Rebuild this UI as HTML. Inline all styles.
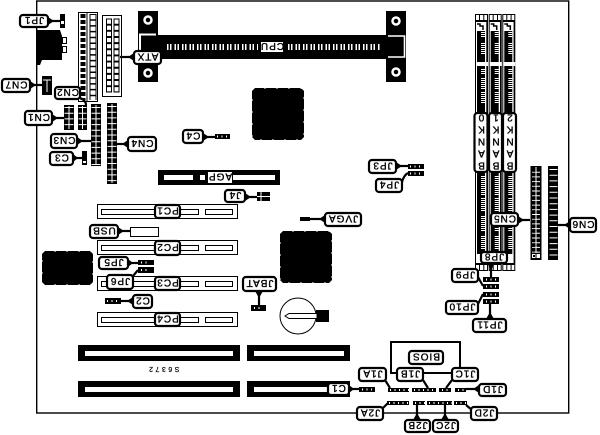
<!DOCTYPE html>
<html><head><meta charset="utf-8"><style>
html,body{margin:0;padding:0;background:#fff;width:600px;height:435px;overflow:hidden}
svg{display:block}
text{font-family:"Liberation Sans",sans-serif;font-size:10px;letter-spacing:1px;text-anchor:middle;fill:#000;stroke:#000;stroke-width:.35}
.l{fill:#fff;stroke:#000;stroke-width:2.2}
.k{fill:none;stroke:#000;stroke-width:2.2}
</style></head><body>
<svg width="600" height="435" viewBox="0 0 600 435" xmlns="http://www.w3.org/2000/svg">
<defs>
<g id="slot">
<rect x="0" y="14" width="13" height="257" fill="#000"/>
<rect x="1" y="31" width="1" height="223" fill="#fff"/>
<rect x="10" y="31" width="1.300" height="223" fill="#fff"/>
<rect x="1" y="15" width="3" height="5" fill="#fff"/><rect x="5" y="15" width="3.300" height="5" fill="#fff"/><rect x="9.300" y="15" width="2.700" height="5" fill="#fff"/>
<rect x="1" y="22" width="10.300" height="9" fill="#fff"/>
<path d="M2 24H5V26H8V30" fill="none" stroke="#000" stroke-width="1.500"/>
<rect x="1" y="62" width="12" height="4" fill="#fff"/>
<g stroke="#fff" stroke-width="4" stroke-dasharray="1 1" fill="none">
<line x1="8" y1="32" x2="8" y2="38"/><line x1="8" y1="43" x2="8" y2="54"/>
<line x1="8" y1="69" x2="8" y2="74"/><line x1="8" y1="78" x2="8" y2="90"/><line x1="8" y1="92" x2="8" y2="104"/>
<line x1="8" y1="176" x2="8" y2="196"/><line x1="8" y1="198" x2="8" y2="212"/><line x1="8" y1="216" x2="8" y2="232"/><line x1="8" y1="236" x2="8" y2="250"/>
</g>
<rect x="1" y="254" width="10.300" height="9" fill="#fff"/>
<rect x="1" y="265" width="3" height="5" fill="#fff"/><rect x="5" y="265" width="3.300" height="5" fill="#fff"/><rect x="9.300" y="265" width="2.700" height="5" fill="#fff"/>
</g>
<g id="pci">
<rect x="97.500" y=".5" width="140" height="14" fill="#fff" stroke="#000"/>
<rect x="101.500" y="5.500" width="54" height="5" fill="#fff" stroke="#000"/>
<rect x="178.500" y="5.500" width="20" height="5" fill="#fff" stroke="#000"/>
<rect x="205.500" y="5.500" width="27" height="5" fill="#fff" stroke="#000"/>
</g>
</defs>

<rect x="36.700" y="1" width="532" height="412" fill="none" stroke="#000" stroke-width="1.400"/>

<!-- back panel -->
<path d="M37 30H60L62 36V60H42L40 65H37Z" fill="#000"/>
<rect x="62.500" y="37.500" width="4" height="6" fill="#fff" stroke="#000"/>
<rect x="62.500" y="46.500" width="4" height="6" fill="#fff" stroke="#000"/>
<rect x="60" y="14" width="5" height="14" fill="#000"/>
<rect x="61" y="21" width="3" height="3" fill="#fff"/>

<!-- upper left connector -->
<rect x="78.500" y="12.500" width="19" height="89" fill="#fff" stroke="#000"/>
<line x1="83" y1="14" x2="83" y2="100" stroke="#000" stroke-width="5" stroke-dasharray="4 2"/>
<line x1="87" y1="13" x2="87" y2="101" stroke="#000"/>
<line x1="93" y1="14" x2="93" y2="100" stroke="#000" stroke-width="7"/>
<line x1="93" y1="15" x2="93" y2="100" stroke="#fff" stroke-width="5" stroke-dasharray="4.300 1.500"/>

<!-- ATX connector -->
<rect x="102.500" y="15.500" width="19" height="81" fill="#fff" stroke="#000"/>
<line x1="109" y1="18.500" x2="109" y2="92.500" stroke="#000" stroke-width="6"/>
<line x1="116.500" y1="18.500" x2="116.500" y2="92.500" stroke="#000" stroke-width="6"/>
<line x1="109" y1="19.500" x2="109" y2="92" stroke="#fff" stroke-width="4" stroke-dasharray="4.200 1.950"/>
<line x1="116.500" y1="19.500" x2="116.500" y2="92" stroke="#fff" stroke-width="4" stroke-dasharray="4.200 1.950"/>

<!-- CPU slot -->
<rect x="138" y="11" width="20" height="71" fill="#000"/>
<rect x="386" y="11" width="20" height="71" fill="#000"/>
<rect x="158" y="35" width="228" height="24" fill="#000"/>
<circle cx="148" cy="20" r="3.500" fill="none" stroke="#fff" stroke-width="2.500"/>
<circle cx="148" cy="73" r="3.500" fill="none" stroke="#fff" stroke-width="2.500"/>
<circle cx="396" cy="21" r="3.500" fill="none" stroke="#fff" stroke-width="2.500"/>
<circle cx="396" cy="72" r="3.500" fill="none" stroke="#fff" stroke-width="2.500"/>
<path d="M140 50V34.500H156" fill="none" stroke="#fff" stroke-width="2"/>
<path d="M388 36H404.500V57H388" fill="none" stroke="#fff" stroke-width="1.600"/>
<line x1="167" y1="47" x2="258" y2="47" stroke="#fff" stroke-width="6" stroke-dasharray="1.500 1.500 1.500 3"/>
<line x1="288" y1="47" x2="380" y2="47" stroke="#fff" stroke-width="6" stroke-dasharray="1.500 1.500 1.500 3"/>
<rect x="261" y="42" width="22" height="10" fill="#fff"/>
<text transform="rotate(180 272 47)" x="272" y="51">CPU</text>

<!-- chips -->
<path d="M255 88H301L304 91V137L301 140H255L252 137V91Z" fill="#000"/>
<path d="M283 231H329L332 234V280L329 283H283L280 280V234Z" fill="#000"/>
<path d="M45 251H90L93 254V282L90 285H45L42 282V254Z" fill="#000"/>
<g fill="none" stroke="#fff" stroke-dasharray="1 11">
<rect x="252.500" y="88.500" width="51" height="51"/>
<rect x="280.500" y="231.500" width="51" height="51"/>
<rect x="42.500" y="251.500" width="50" height="33"/>
</g>

<!-- left connectors -->
<rect x="42" y="76" width="10" height="19" fill="#000"/>
<path d="M43 80H51M47 80V92" stroke="#fff" fill="none"/>
<rect x="64" y="105" width="10" height="25" fill="#000"/>
<rect x="78" y="105" width="9" height="25" fill="#000"/>
<rect x="91" y="104" width="10" height="62" fill="#000"/>
<rect x="107" y="103" width="10" height="81" fill="#000"/>
<rect x="82" y="151" width="5" height="14" fill="#000"/>
<rect x="83" y="161" width="3" height="2" fill="#fff"/>
<g stroke="#fff" fill="none">
<line x1="69" y1="106" x2="69" y2="129"/><line x1="82.500" y1="106" x2="82.500" y2="129"/><line x1="96" y1="105" x2="96" y2="165"/><line x1="112" y1="104" x2="112" y2="183"/>
<line x1="69" y1="107" x2="69" y2="129" stroke-width="9" stroke-dasharray="1 4.700"/>
<line x1="82.500" y1="107" x2="82.500" y2="129" stroke-width="8" stroke-dasharray="1 4.700"/>
<line x1="96" y1="107" x2="96" y2="165" stroke-width="9" stroke-dasharray="1 4.700"/>
<line x1="112" y1="106" x2="112" y2="183" stroke-width="9" stroke-dasharray="1 4.700"/>
</g>

<!-- AGP -->
<rect x="158" y="170" width="122" height="15" fill="#000"/>
<rect x="164" y="175" width="29" height="5" fill="#fff"/>
<rect x="233" y="175" width="42" height="5" fill="#fff"/>
<rect x="200" y="175" width="5" height="5" fill="#fff"/>
<rect x="208" y="172" width="24" height="11" fill="#fff"/>
<text transform="rotate(180 220 177.500)" x="220" y="181.500">AGP</text>

<!-- PCI slots -->
<use href="#pci" y="204"/><use href="#pci" y="240"/><use href="#pci" y="276"/><use href="#pci" y="312"/>

<!-- ISA slots -->
<g fill="#000">
<rect x="78" y="345" width="162" height="16"/><rect x="78" y="381" width="162" height="16"/>
<rect x="247" y="345" width="103" height="16"/><rect x="247" y="381" width="103" height="16"/>
</g>
<g fill="#fff">
<rect x="85" y="351" width="148" height="5"/><rect x="85" y="387" width="148" height="5"/>
<rect x="254" y="351" width="90" height="5"/><rect x="254" y="387" width="90" height="5"/>
</g>
<text transform="rotate(180 163 370)" x="163" y="373" style="font-size:7px;letter-spacing:2.500px;stroke-width:.2">S6372</text>

<!-- battery -->
<circle cx="298" cy="316" r="18" fill="#fff" stroke="#000"/>
<rect x="316" y="310" width="13" height="12" fill="#000"/>
<path d="M285 316L289 313.500H317V318.500H289Z" fill="#fff" stroke="#000"/>

<!-- memory -->
<use href="#slot" x="475"/><use href="#slot" x="488.700"/><use href="#slot" x="502.300"/>

<!-- CN5 / CN6 -->
<rect x="530.500" y="166" width="11" height="94" fill="#000"/>
<rect x="532" y="168" width="8" height="90" fill="#fff"/>
<line x1="536" y1="168" x2="536" y2="258" stroke="#000" stroke-width="1"/>
<line x1="536" y1="168" x2="536" y2="254" stroke="#000" stroke-width="8" stroke-dasharray="3.700 1"/>
<rect x="537" y="168" width="2.500" height="0" fill="#000"/>
<line x1="534" y1="168" x2="534" y2="253" stroke="#000" stroke-width="3" stroke-dasharray="3.700 1"/>
<line x1="536" y1="167" x2="536" y2="253" stroke="#fff"/>
<rect x="533" y="255" width="2" height="2" fill="#000"/>
<rect x="548" y="166" width="10" height="94" fill="#000"/>
<line x1="553.500" y1="169" x2="553.500" y2="256" stroke="#fff" stroke-width="8" stroke-dasharray="1 4.700"/>

<!-- small components -->
<g fill="#000">
<rect x="215" y="134" width="15" height="5"/>
<rect x="257" y="192" width="13" height="9"/>
<rect x="408" y="164" width="16" height="5"/><rect x="408" y="171" width="16" height="5"/>
<rect x="300" y="217" width="10" height="4"/>
<rect x="138" y="260" width="16" height="5"/><rect x="138" y="267" width="16" height="6"/>
<rect x="105" y="298" width="16" height="6"/>
<rect x="251" y="305" width="15" height="6"/>
<rect x="359" y="387" width="16" height="5"/>
<rect x="483" y="277" width="16" height="5"/><rect x="483" y="284" width="16" height="5"/>
<rect x="483" y="292" width="16" height="5"/><rect x="483" y="299" width="16" height="5"/>
<rect x="388" y="388" width="21" height="4"/><rect x="412" y="388" width="24" height="4"/>
<rect x="439" y="388" width="12" height="4"/><rect x="455" y="388" width="11" height="4"/>
<rect x="387" y="401" width="22" height="4"/><rect x="413" y="401" width="12" height="4"/>
<rect x="427" y="401" width="25" height="4"/><rect x="454" y="401" width="13" height="4"/>
</g>
<g stroke="#fff" fill="none" stroke-width="2" stroke-dasharray="1 3.500">
<line x1="217" y1="136.500" x2="230" y2="136.500"/>
<line x1="410" y1="166.500" x2="420" y2="166.500"/><line x1="410" y1="173.500" x2="420" y2="173.500"/>
<line x1="141" y1="262.500" x2="150" y2="262.500"/><line x1="141" y1="270" x2="150" y2="270"/>
<line x1="107" y1="301" x2="118" y2="301"/>
<line x1="254" y1="308" x2="262" y2="308"/>
<line x1="362" y1="389.500" x2="375" y2="389.500"/>
<line x1="486" y1="279.500" x2="496" y2="279.500"/><line x1="486" y1="286.500" x2="496" y2="286.500"/>
<line x1="486" y1="294.500" x2="496" y2="294.500"/><line x1="486" y1="301.500" x2="496" y2="301.500"/>
<line x1="390" y1="390" x2="409" y2="390"/><line x1="414" y1="390" x2="436" y2="390"/>
<line x1="442" y1="390" x2="451" y2="390"/><line x1="458" y1="390" x2="466" y2="390"/>
<line x1="389" y1="403" x2="409" y2="403"/><line x1="415" y1="403" x2="425" y2="403"/>
<line x1="429" y1="403" x2="452" y2="403"/><line x1="456" y1="403" x2="467" y2="403"/>
</g>
<path d="M261 192V201M257 196.500H270" stroke="#fff"/>
<rect x="130.500" y="227.500" width="28" height="9" fill="#fff" stroke="#000"/>

<!-- BIOS box -->
<rect x="391" y="342" width="69" height="31" fill="none" stroke="#000" stroke-width="2"/>

<!-- leaders -->
<g class="k">
<path d="M48 21H60"/><path d="M120 57H134"/><path d="M30 85H42"/><path d="M78 97Q86 100 86 105"/>
<path d="M52 118H64"/><path d="M77 141H91"/><path d="M73 158H82"/><path d="M128 144H117"/>
<path d="M203 137H215"/><path d="M245 197H257"/><path d="M396 166H408"/><path d="M402 182Q404 175 408 173"/>
<path d="M325 219H310"/><path d="M118 231H130"/><path d="M128 263H138"/><path d="M133 276L138 270"/>
<path d="M133 301H121"/><path d="M259 291V305"/><path d="M349 389H359"/>
<path d="M491 263V277"/><path d="M478 277L483 286"/><path d="M478 304L483 294"/><path d="M490 319V304"/>
<path d="M385 380L390 388"/><path d="M423 380L428 388"/><path d="M452 380L446 388"/><path d="M478 389H466"/>
<path d="M383 408L388 403"/><path d="M417 420V405"/><path d="M445 420V405"/><path d="M472 410L466 405"/>
<path d="M518 220H530"/><path d="M570 225H558"/>
</g>
<!-- leader wedges -->
<g fill="#000">
<path d="M48 17V25L54 21Z"/><path d="M134 53V61L128 57Z"/><path d="M30 81V89L36 85Z"/>
<path d="M52 114V122L58 118Z"/><path d="M77 137V145L83 141Z"/><path d="M73 154V162L78 158Z"/>
<path d="M128 140V148L122 144Z"/><path d="M203 133V141L209 137Z"/><path d="M245 193V201L251 197Z"/>
<path d="M396 162V170L402 166Z"/><path d="M325 215V223L319 219Z"/><path d="M118 227V235L124 231Z"/>
<path d="M128 259V267L133 263Z"/><path d="M133 297V305L127 301Z"/><path d="M255 291H263L259 298Z"/>
<path d="M349 385V393L354 389Z"/><path d="M518 216V224L524 220Z"/><path d="M570 221V229L564 225Z"/>
<path d="M479 385V393L473 389Z"/><path d="M487 263H495L491 270Z"/><path d="M486 319H494L490 312Z"/>
<path d="M413 420H421L417 413Z"/><path d="M441 420H449L445 413Z"/>
</g>

<!-- labels -->
<rect class="l" x="20" y="15" width="28" height="12" rx="3"/><text transform="rotate(180 34 21)" x="34" y="25">JP1</text>
<rect class="l" x="134" y="51" width="27" height="13" rx="3"/><text transform="rotate(180 147.500 57.500)" x="147.500" y="61.500">ATX</text>
<rect class="l" x="2" y="79" width="28" height="13" rx="3"/><text transform="rotate(180 16 85.500)" x="16" y="89.500">CN7</text>
<rect class="l" x="55" y="87" width="25" height="12" rx="3"/><text transform="rotate(180 67.500 93)" x="67.500" y="97">CN2</text>
<rect class="l" x="25" y="111" width="27" height="14" rx="3"/><text transform="rotate(180 38.500 118)" x="38.500" y="122">CN1</text>
<rect class="l" x="51" y="134" width="26" height="14" rx="3"/><text transform="rotate(180 64 141)" x="64" y="145">CN3</text>
<rect class="l" x="50" y="152" width="23" height="13" rx="3"/><text transform="rotate(180 61.500 158.500)" x="61.500" y="162.500">C3</text>
<rect class="l" x="128" y="137" width="28" height="14" rx="3"/><text transform="rotate(180 142 144)" x="142" y="148">CN4</text>
<rect class="l" x="183" y="130" width="20" height="13" rx="3"/><text transform="rotate(180 193 136.500)" x="193" y="140.500">C4</text>
<rect class="l" x="225" y="190" width="20" height="12" rx="3"/><text transform="rotate(180 235 196)" x="235" y="200">J4</text>
<rect class="l" x="155" y="205" width="25" height="13" rx="3"/><text transform="rotate(180 167.500 211.500)" x="167.500" y="215.500">PC1</text>
<rect class="l" x="155" y="241" width="25" height="14" rx="3"/><text transform="rotate(180 167.500 248)" x="167.500" y="252">PC2</text>
<rect class="l" x="155" y="277" width="25" height="13" rx="3"/><text transform="rotate(180 167.500 283.500)" x="167.500" y="287.500">PC3</text>
<rect class="l" x="155" y="313" width="25" height="13" rx="3"/><text transform="rotate(180 167.500 319.500)" x="167.500" y="323.500">PC4</text>
<rect class="l" x="369" y="160" width="27" height="13" rx="3"/><text transform="rotate(180 382.500 166.500)" x="382.500" y="170.500">JP3</text>
<rect class="l" x="376" y="179" width="26" height="13" rx="3"/><text transform="rotate(180 389 185.500)" x="389" y="189.500">JP4</text>
<rect class="l" x="325" y="213" width="36" height="13" rx="3"/><text transform="rotate(180 343 219.500)" x="343" y="223.500">JVGA</text>
<rect class="l" x="90" y="225" width="28" height="13" rx="3"/><text transform="rotate(180 104 231.500)" x="104" y="235.500">USB</text>
<rect class="l" x="99" y="257" width="29" height="12" rx="3"/><text transform="rotate(180 113.500 263)" x="113.500" y="267">JP5</text>
<rect class="l" x="107" y="275" width="26" height="14" rx="3"/><text transform="rotate(180 120 282)" x="120" y="286">JP6</text>
<rect class="l" x="133" y="295" width="19" height="13" rx="3"/><text transform="rotate(180 142.500 301.500)" x="142.500" y="305.500">C2</text>
<rect class="l" x="243" y="277" width="33" height="14" rx="3"/><text transform="rotate(180 259.500 284)" x="259.500" y="288">JBAT</text>
<rect class="l" x="328" y="383" width="21" height="12" rx="3"/><text transform="rotate(180 338.500 389)" x="338.500" y="393">C1</text>
<rect class="l" x="409" y="351" width="34" height="13" rx="3"/><text transform="rotate(180 426 357.500)" x="426" y="361.500">BIOS</text>
<rect class="l" x="359" y="368" width="27" height="13" rx="3"/><text transform="rotate(180 372.500 374.500)" x="372.500" y="378.500">J1A</text>
<rect class="l" x="397" y="368" width="26" height="13" rx="3"/><text transform="rotate(180 410 374.500)" x="410" y="378.500">J1B</text>
<rect class="l" x="452" y="368" width="26" height="13" rx="3"/><text transform="rotate(180 465 374.500)" x="465" y="378.500">J1C</text>
<rect class="l" x="479" y="384" width="27" height="12" rx="3"/><text transform="rotate(180 492.500 390)" x="492.500" y="394">J1D</text>
<rect class="l" x="357" y="407" width="26" height="13" rx="3"/><text transform="rotate(180 370 413.500)" x="370" y="417.500">J2A</text>
<rect class="l" x="405" y="420" width="25" height="12" rx="3"/><text transform="rotate(180 417.500 426)" x="417.500" y="430">J2B</text>
<rect class="l" x="433" y="420" width="25" height="12" rx="3"/><text transform="rotate(180 445.500 426)" x="445.500" y="430">J2C</text>
<rect class="l" x="471" y="407" width="26" height="13" rx="3"/><text transform="rotate(180 484 413.500)" x="484" y="417.500">J2D</text>
<rect class="l" x="481" y="252" width="26" height="11" rx="3"/><text transform="rotate(180 494 257.500)" x="494" y="261.500">JP8</text>
<rect class="l" x="452" y="269" width="26" height="13" rx="3"/><text transform="rotate(180 465 275.500)" x="465" y="279.500">JP9</text>
<rect class="l" x="446" y="301" width="32" height="13" rx="3"/><text transform="rotate(180 462 307.500)" x="462" y="311.500">JP10</text>
<rect class="l" x="473" y="319" width="33" height="13" rx="3"/><text transform="rotate(180 489.500 325.500)" x="489.500" y="329.500">JP11</text>
<rect class="l" x="491" y="213" width="27" height="13" rx="3"/><text transform="rotate(180 504.500 219.500)" x="504.500" y="223.500">CN5</text>
<rect class="l" x="570" y="218" width="26" height="14" rx="3"/><text transform="rotate(180 583 225)" x="583" y="229">CN6</text>

<!-- BANK labels -->
<rect class="l" x="474.500" y="113" width="13" height="59" rx="3"/>
<rect class="l" x="489" y="113" width="13" height="59" rx="3"/>
<rect class="l" x="503" y="113" width="13" height="59" rx="3"/>
<g style="font-size:9px">
<text transform="rotate(180 481 118)" x="481" y="121.500">0</text><text transform="rotate(180 481 130)" x="481" y="133.500">K</text><text transform="rotate(180 481 142)" x="481" y="145.500">N</text><text transform="rotate(180 481 154)" x="481" y="157.500">A</text><text transform="rotate(180 481 166)" x="481" y="169.500">B</text>
<text transform="rotate(180 495.500 118)" x="495.500" y="121.500">1</text><text transform="rotate(180 495.500 130)" x="495.500" y="133.500">K</text><text transform="rotate(180 495.500 142)" x="495.500" y="145.500">N</text><text transform="rotate(180 495.500 154)" x="495.500" y="157.500">A</text><text transform="rotate(180 495.500 166)" x="495.500" y="169.500">B</text>
<text transform="rotate(180 509.500 118)" x="509.500" y="121.500">2</text><text transform="rotate(180 509.500 130)" x="509.500" y="133.500">K</text><text transform="rotate(180 509.500 142)" x="509.500" y="145.500">N</text><text transform="rotate(180 509.500 154)" x="509.500" y="157.500">A</text><text transform="rotate(180 509.500 166)" x="509.500" y="169.500">B</text>
</g>
</svg>
</body></html>
